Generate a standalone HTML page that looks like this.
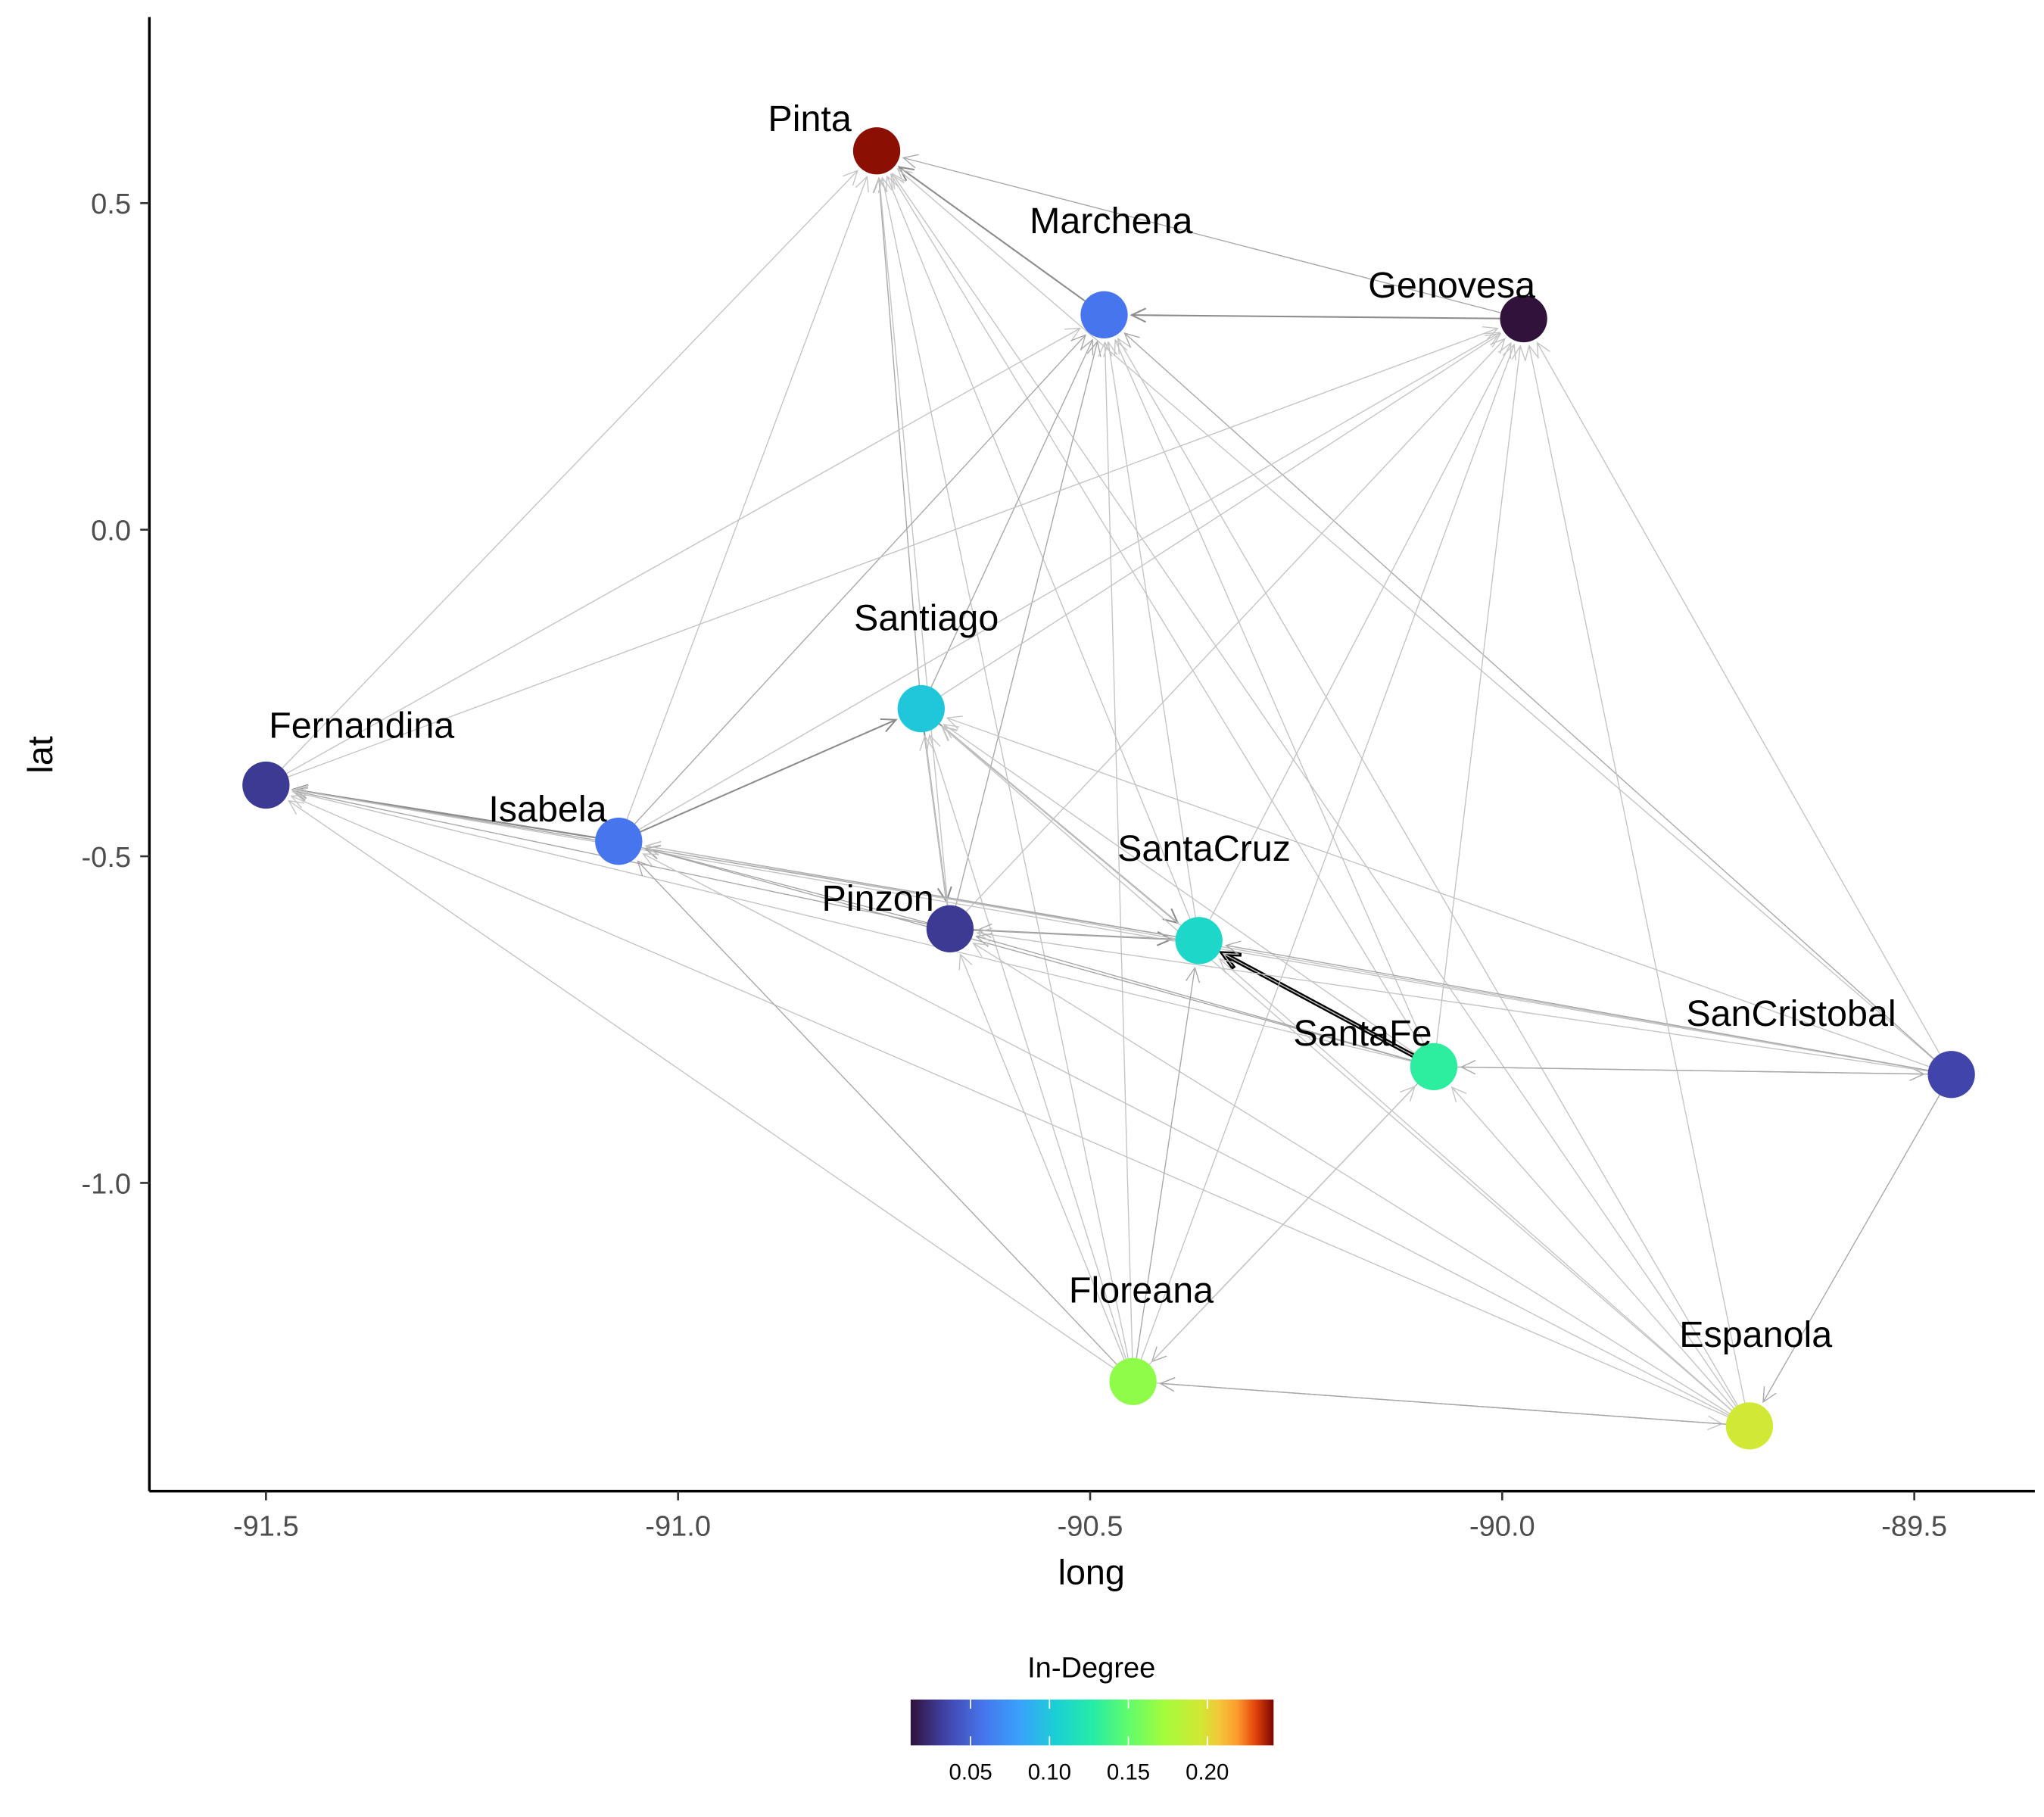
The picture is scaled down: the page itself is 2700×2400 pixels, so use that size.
<!DOCTYPE html>
<html><head><meta charset="utf-8">
<style>
html,body{margin:0;padding:0;background:#fff;}
svg{display:block;font-family:"Liberation Sans",Arial,sans-serif;}
</style></head>
<body>
<svg id="chart" width="2700" height="2400" viewBox="0 0 1560 1386.67" xmlns="http://www.w3.org/2000/svg">
<defs>
<linearGradient id="turbo" x1="0" x2="1" y1="0" y2="0">
<stop offset="0" stop-color="#30123b"/>
<stop offset="0.1" stop-color="#4145ab"/>
<stop offset="0.2" stop-color="#4675ed"/>
<stop offset="0.3" stop-color="#39a2fc"/>
<stop offset="0.4" stop-color="#1bcfd4"/>
<stop offset="0.5" stop-color="#24eca6"/>
<stop offset="0.6" stop-color="#61fc6c"/>
<stop offset="0.7" stop-color="#a4fc3b"/>
<stop offset="0.8" stop-color="#d1e834"/>
<stop offset="0.85" stop-color="#f3c63a"/>
<stop offset="0.9" stop-color="#fe9b2d"/>
<stop offset="0.95" stop-color="#e3440a"/>
<stop offset="1" stop-color="#7a0403"/>
</linearGradient>
</defs>
<g id="edges"></g>
<g id="nodes"></g>
<g id="axes"></g>
<g id="legend"></g>
</svg>
<script>
const names=["Pinta","Marchena","Genovesa","Santiago","Fernandina","Isabela","Pinzon","SantaCruz","SantaFe","SanCristobal","Floreana","Espanola"];
const longs=[-90.759,-90.483,-89.974,-90.705,-91.5,-91.072,-90.670,-90.368,-90.083,-89.455,-90.448,-89.700];
const lats=[0.58,0.329,0.323,-0.274,-0.391,-0.477,-0.611,-0.629,-0.822,-0.834,-1.304,-1.372];
const indeg=[0.24,0.058,0.012,0.10,0.03,0.058,0.03,0.11,0.13,0.035,0.166,0.196];
const edgeFrom=[8,2,1,2,5,5,6,3,3,8,11,9,8,
 4,5,3,6,7,8,10,11,9, 4,5,3,6,7,10,8,11,9, 5,3,6,7,8,10,11,9,4, 6,7,8,10,11,9,
 5,6,7,8,10,11,9, 6,7,8,10,11,9, 7,8,10,11,9, 8,10,11,9, 9,10,11, 10,11];
const edgeTo=[7,1,0,0,4,3,7,6,7,9,10,11,10,
 0,0,0,0,0,0,0,0,0, 1,1,1,1,1,1,1,1,1, 2,2,2,2,2,2,2,2,2, 3,3,3,3,3,3,
 4,4,4,4,4,4,4, 5,5,5,5,5,5, 6,6,6,6,6, 7,7,7,7, 8,8,8, 11,10];
const edgeWeight=[3,1,1,0.5,1,0.8,0.8,0.8,0.8,0.6,0.7,0.6,0.6,
 0.4,0.4,0.5,0.4,0.4,0.4,0.4,0.4,0.4, 0.3,0.5,0.5,0.5,0.4,0.4,0.4,0.4,0.5, 0.3,0.4,0.4,0.4,0.4,0.4,0.4,0.4,0.3, 0.4,0.4,0.4,0.4,0.3,0.3,
 0.8,0.5,0.5,0.4,0.4,0.4,0.3, 0.6,0.5,0.5,0.5,0.4,0.4, 0.5,0.6,0.4,0.4,0.4, 0.4,0.5,0.3,0.6, 0.6,0.4,0.3, 0.3,0.6];
const xTicks=[-91.5,-91.0,-90.5,-90.0,-89.5];
const yTicks=[0.5,0.0,-0.5,-1.0];
const legendTicks=[0.05,0.10,0.15,0.20];
const legendMin=0.012, legendMax=0.242;
const labelX=[618,848,1108,707,276,418,670,919,1040,1367,871,1340];
const labelY=[90,168,217,471,553,617,685,647,788,773,984,1018];

const NS="http://www.w3.org/2000/svg";
function X(v){return 203+(v+91.5)*629;}
function Y(v){return 155-(v-0.5)*498.5;}
function mk(tag,attrs,parent){const e=document.createElementNS(NS,tag);for(const k in attrs)e.setAttribute(k,attrs[k]);parent.appendChild(e);return e;}
const stops=[[0,[48,18,59]],[0.1,[65,69,171]],[0.2,[70,117,237]],[0.3,[57,162,252]],[0.4,[27,207,212]],[0.5,[36,236,166]],[0.6,[97,252,108]],[0.7,[164,252,59]],[0.8,[209,232,52]],[0.85,[243,198,58]],[0.9,[254,155,45]],[0.95,[227,68,10]],[1,[122,4,3]]];
function turbo(t){t=Math.max(0,Math.min(1,t));for(let i=1;i<stops.length;i++){if(t<=stops[i][0]){const a=stops[i-1],b=stops[i];const f=(t-a[0])/(b[0]-a[0]);const c=a[1].map((v,j)=>Math.round(v+(b[1][j]-v)*f));return "rgb("+c.join(",")+")";}}return "rgb(122,4,3)";}

const gE=document.getElementById('edges');
const R=18;
for(let i=0;i<edgeFrom.length;i++){
 const a=edgeFrom[i],b=edgeTo[i],w=edgeWeight[i];
 const x1=X(longs[a]),y1=Y(lats[a]),x2=X(longs[b]),y2=Y(lats[b]);
 const dx=x2-x1,dy=y2-y1,L=Math.hypot(dx,dy),ux=dx/L,uy=dy/L;
 const ex=x2-ux*(R+3),ey=y2-uy*(R+3);
 const col=w>=3?"#000":(w>=0.8?"#8c8c8c":(w>=0.5?"#a8a8a8":"#c4c4c4"));
 const sw=w>=3?3.5:(w>=0.8?1.2:0.8);
 const g=mk('g',{},gE);
 
 
 mk('line',{x1:x1,y1:y1,x2:ex,y2:ey,stroke:col,'stroke-width':sw},g);
 const al=w>=3?14:12,ang=0.45;
 const px=-uy,py=ux;
 const bx=ex-ux*al*Math.cos(ang),by=ey-uy*al*Math.cos(ang),s=al*Math.sin(ang);
 mk('path',{d:`M${bx+px*s},${by+py*s} L${ex},${ey} L${bx-px*s},${by-py*s}`,fill:'none',stroke:col,'stroke-width':sw},g);
}
const gN=document.getElementById('nodes');
for(let i=0;i<names.length;i++){
 const cx=X(longs[i]),cy=Y(lats[i]);
 const c=mk('circle',{cx:cx,cy:cy,r:R,fill:turbo((indeg[i]-legendMin)/(legendMax-legendMin))},gN);
 
 
 const t=mk('text',{x:labelX[i],y:labelY[i]+10,'font-size':28,'text-anchor':'middle',fill:'#000'},gN);
 t.textContent=names[i];
 
 
}
const gA=document.getElementById('axes');
const xl=mk('line',{x1:114,y1:1138,x2:1553,y2:1138,stroke:'#000','stroke-width':2},gA);

const yl=mk('line',{x1:114,y1:13,x2:114,y2:1138,stroke:'#000','stroke-width':2},gA);

xTicks.forEach(v=>{const x=X(v);mk('line',{x1:x,y1:1138,x2:x,y2:1145,stroke:'#333','stroke-width':1.5},gA);
 const t=mk('text',{x:x,y:1172,'font-size':22,'text-anchor':'middle',fill:'#4d4d4d'},gA);t.textContent=v.toFixed(1);
 });
yTicks.forEach(v=>{const y=Y(v);mk('line',{x1:107,y1:y,x2:114,y2:y,stroke:'#333','stroke-width':1.5},gA);
 const t=mk('text',{x:100,y:y+8,'font-size':22,'text-anchor':'end',fill:'#4d4d4d'},gA);t.textContent=v.toFixed(1);
 });
const xt=mk('text',{x:833,y:1209,'font-size':27,'text-anchor':'middle',fill:'#000'},gA);xt.textContent='long';

const yt=mk('text',{x:40,y:576,'font-size':27,'text-anchor':'middle',fill:'#000',transform:'rotate(-90 40 576)'},gA);yt.textContent='lat';

const gL=document.getElementById('legend');
const lt=mk('text',{x:833,y:1280,'font-size':22,'text-anchor':'middle',fill:'#000'},gL);lt.textContent='In-Degree';

const bar=mk('rect',{x:695,y:1297,width:277,height:35,fill:'url(#turbo)'},gL);

function LX(v){return 695+(v-legendMin)/(legendMax-legendMin)*277;}
legendTicks.forEach(v=>{const x=LX(v);
 mk('line',{x1:x,y1:1297,x2:x,y2:1304,stroke:'#fff','stroke-width':1},gL);
 mk('line',{x1:x,y1:1325,x2:x,y2:1332,stroke:'#fff','stroke-width':1},gL);
 const t=mk('text',{x:x,y:1358,'font-size':17,'text-anchor':'middle',fill:'#000'},gL);t.textContent=v.toFixed(2);
 });
</script>
</body></html>
